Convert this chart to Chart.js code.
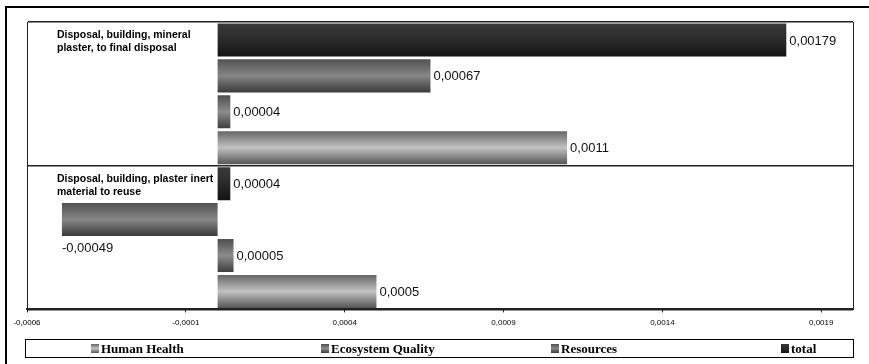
<!DOCTYPE html>
<html>
<head>
<meta charset="utf-8">
<script src="https://cdn.jsdelivr.net/npm/chart.js@4.4.1/dist/chart.umd.min.js"></script>
<style>
    html, body { margin: 0; padding: 0; background: #fff; }
    #contenedor { position: relative; width: 869px; height: 364px; }
    #grafico { position: absolute; left: 0; top: 0; }
    #leyenda {
        position: absolute; left: 25px; top: 339px; width: 829px; height: 19px;
        box-sizing: border-box; border: 1px solid #000; padding-left: 65px;
        display: grid; grid-template-columns: repeat(4, 230px); align-items: center;
        font: bold 13px "Liberation Serif", "Times New Roman", serif; color: #000;
    }
    .item { display: flex; align-items: center; }
    .marca { width: 8px; height: 9px; margin-right: 2px; }
</style>
</head>
<body>
<div id="contenedor">
    <canvas id="grafico" width="869" height="364"></canvas>
    <div id="leyenda"></div>
</div>
<script>
// Datos
const categorias = [
    ['Disposal, building, mineral', 'plaster, to final disposal'],
    ['Disposal, building, plaster inert', 'material to reuse']
];
const nombresSeries = ['Human Health', 'Ecosystem Quality', 'Resources', 'total'];
const humanHealth = [0.0011, 0.0005];
const ecosystemQuality = [0.00004, 0.00005];
const resources = [0.00067, -0.00049];
const total = [0.00179, 0.00004];
const ticksX = [-0.0006, -0.0001, 0.0004, 0.0009, 0.0014, 0.0019];

// Tonos de cada serie: borde superior, centro, borde inferior
const tonos = {
    'Human Health': ['#666666', '#c2c2c2', '#555555'],
    'Ecosystem Quality': ['#4f4f4f', '#8c8c8c', '#3e3e3e'],
    'Resources': ['#525252', '#868686', '#3a3a3a'],
    'total': ['#3a3a3a', '#2a2a2a', '#141414']
};

const formatear = v => String(v).replace('.', ',');

// Marco exterior y borde derecho del área de trazado
const marco = {
    id: 'marco',
    beforeDraw(chart) {
        const c = chart.ctx;
        c.save();
        c.fillStyle = '#000';
        c.fillRect(5, 6, chart.width - 5, 2);
        c.fillRect(5, 6, 2, chart.height - 6);
        c.restore();
    },
    afterDraw(chart) {
        const {ctx: c, chartArea: a} = chart;
        c.save();
        c.strokeStyle = '#222';
        c.lineWidth = 1;
        c.beginPath();
        c.moveTo(a.right + 0.5, a.top);
        c.lineTo(a.right + 0.5, a.bottom);
        c.stroke();
        c.restore();
    }
};

// Degradado vertical en cada barra
const sombreado = {
    id: 'sombreado',
    beforeDatasetsDraw(chart) {
        const c = chart.ctx;
        chart.data.datasets.forEach((ds, i) => {
            const t = tonos[ds.label];
            chart.getDatasetMeta(i).data.forEach(barra => {
                const mitad = barra.height / 2;
                const g = c.createLinearGradient(0, barra.y - mitad, 0, barra.y + mitad);
                g.addColorStop(0, t[0]);
                g.addColorStop(0.5, t[1]);
                g.addColorStop(1, t[2]);
                barra.options = Object.assign({}, barra.options, { backgroundColor: g });
            });
        });
    }
};

// Valores junto a las barras y nombres de categoría
const etiquetas = {
    id: 'etiquetas',
    afterDatasetsDraw(chart) {
        const c = chart.ctx;
        c.save();
        c.fillStyle = '#111';
        c.textAlign = 'left';
        c.textBaseline = 'middle';
        c.font = '13px "Liberation Sans", Arial, sans-serif';
        chart.data.datasets.forEach((ds, i) => {
            chart.getDatasetMeta(i).data.forEach((barra, j) => {
                const v = ds.data[j];
                if (v >= 0) {
                    c.fillText(formatear(v), barra.x + 3, barra.y + 1);
                } else {
                    c.fillText(formatear(v), barra.x, barra.y + barra.height / 2 + 12);
                }
            });
        });

        const y = chart.scales.y;
        const alto = (y.bottom - y.top) / categorias.length;
        c.fillStyle = '#000';
        c.font = 'bold 10.5px "Liberation Sans", Arial, sans-serif';
        categorias.forEach((lineas, j) => {
            const arriba = y.getPixelForValue(j) - alto / 2;
            lineas.forEach((linea, k) => {
                c.fillText(linea, chart.chartArea.left + 30, arriba + 13 + k * 13);
            });
        });
        c.restore();
    }
};

const series = [
    { label: 'total', data: total },
    { label: 'Resources', data: resources },
    { label: 'Ecosystem Quality', data: ecosystemQuality },
    { label: 'Human Health', data: humanHealth }
];

const ctx = document.getElementById('grafico').getContext('2d');
const grafico = new Chart(ctx, {
    type: 'bar',
    data: {
        labels: categorias,
        datasets: series.map(s => ({
            label: s.label,
            data: s.data,
            backgroundColor: tonos[s.label][1],
            borderWidth: 0,
            categoryPercentage: 1,
            barPercentage: 0.92
        }))
    },
    options: {
        indexAxis: 'y',
        responsive: false,
        animation: false,
        layout: { padding: { left: 27, right: 16, top: 22, bottom: 30 } },
        plugins: {
            legend: { display: false },
            tooltip: { enabled: false }
        },
        scales: {
            x: {
                min: -0.0006,
                max: 0.002,
                afterBuildTicks: escala => {
                    escala.ticks = ticksX.map(v => ({ value: v }));
                },
                ticks: {
                    callback: v => formatear(v),
                    font: { family: '"Liberation Sans", Arial, sans-serif', size: 8 },
                    color: '#000',
                    padding: 6,
                    maxRotation: 0,
                    autoSkip: false
                },
                grid: { drawOnChartArea: false, tickLength: 3, color: '#222' },
                border: { color: '#222', width: 2 }
            },
            y: {
                ticks: { display: false },
                grid: { drawTicks: false, color: '#222', lineWidth: 1.5 },
                border: { color: '#222', width: 1 }
            }
        }
    },
    plugins: [marco, sombreado, etiquetas]
});

// Leyenda en orden inverso al de las barras
const leyenda = document.getElementById('leyenda');
nombresSeries.forEach(nombre => {
    const t = tonos[nombre];
    const item = document.createElement('div');
    item.className = 'item';
    const marca = document.createElement('span');
    marca.className = 'marca';
    marca.style.background = `linear-gradient(to bottom, ${t[0]}, ${t[1]}, ${t[2]})`;
    const texto = document.createElement('span');
    texto.textContent = nombre;
    item.appendChild(marca);
    item.appendChild(texto);
    leyenda.appendChild(item);
});
</script>
</body>
</html>
